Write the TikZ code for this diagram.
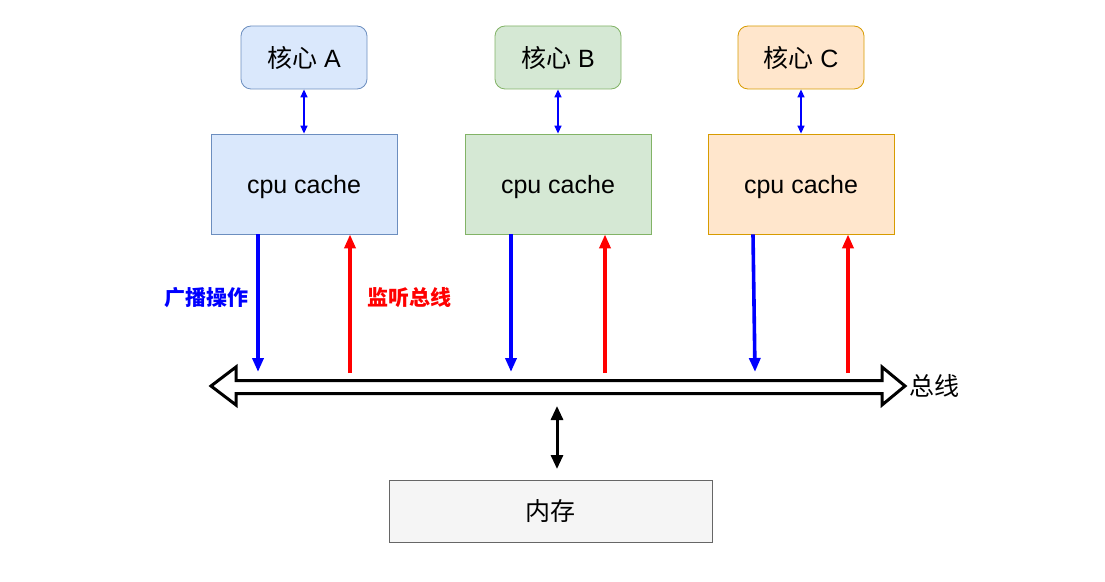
\documentclass[tikz,border=0pt]{standalone}
\usepackage{fontspec}
\setmainfont{Liberation Sans}
\newfontfamily\cjk{Noto Sans CJK SC}
\usetikzlibrary{arrows.meta}
\definecolor{fA}{HTML}{DAE8FC}\definecolor{sA}{HTML}{6C8EBF}
\definecolor{fB}{HTML}{D5E8D4}\definecolor{sB}{HTML}{82B366}
\definecolor{fC}{HTML}{FFE6CC}\definecolor{sC}{HTML}{D79B00}
\definecolor{fM}{HTML}{F5F5F5}\definecolor{sM}{HTML}{666666}
\definecolor{myblue}{HTML}{0000FF}\definecolor{myred}{HTML}{FF0000}
\begin{document}
\begin{tikzpicture}[x=1bp,y=-1bp,
  txt/.style={font=\fontsize{25bp}{29bp}\selectfont},
  core/.style={draw, rounded corners=10bp, minimum width=126bp, minimum height=63bp, inner sep=0pt, line width=0.8bp, txt},
  cache/.style={draw, minimum width=186bp, minimum height=100bp, inner sep=0pt, line width=0.8bp, txt, text depth=0pt},
  small/.style={myblue, line width=1.4bp, {Triangle[length=8bp,width=7bp]}-{Triangle[length=8bp,width=7bp]}},
  down/.style={myblue, line width=3.6bp, -{Triangle[length=14bp,width=11bp]}},
  up/.style={myred, line width=3.6bp, -{Triangle[length=14bp,width=11bp]}},
  lbl/.style={font=\cjk\bfseries\fontsize{21bp}{24bp}\selectfont}]
\useasboundingbox (0,0) rectangle (1105,582);
% cores
\node[core, fill=fA, draw=sA] (coreA) at (304,57.5) {{\cjk 核心} A};
\node[core, fill=fB, draw=sB] (coreB) at (558,57.5) {{\cjk 核心} B};
\node[core, fill=fC, draw=sC] (coreC) at (801,57.5) {{\cjk 核心} C};
% caches
\node[cache, fill=fA, draw=sA] (cacheA) at (304,184) {cpu cache};
\node[cache, fill=fB, draw=sB] (cacheB) at (558,184) {cpu cache};
\node[cache, fill=fC, draw=sC] (cacheC) at (801,184) {cpu cache};
% core-cache arrows
\draw[small] (coreA) -- (cacheA);
\draw[small] (coreB) -- (cacheB);
\draw[small] (coreC) -- (cacheC);
% bus
\draw[line width=3bp, line join=miter, fill=white]
  (211,386) -- (236,367) -- (236,380.5) -- (882,380.5) -- (882,367) -- (905,386)
  -- (882,405) -- (882,393.5) -- (236,393.5) -- (236,405) -- cycle;
\node[txt, anchor=west, inner sep=0pt] (busl) at (909,386) {\cjk 总线};
% bus connection points
\coordinate (bA1) at (258,372); \coordinate (bA2) at (350,373);
\coordinate (bB1) at (511,372); \coordinate (bB2) at (605,373);
\coordinate (bC1) at (755,372); \coordinate (bC2) at (848,373);
\draw[down] (cacheA.south -| bA1) -- (bA1);
\draw[up] (bA2) -- (cacheA.south -| bA2);
\draw[down] (cacheB.south -| bB1) -- (bB1);
\draw[up] (bB2) -- (cacheB.south -| bB2);
\draw[down] (cacheC.south -| 753,0) -- (bC1);
\draw[up] (bC2) -- (cacheC.south -| bC2);
% labels
\node[lbl, text=myblue] (bc) at (206.5,298) {广播操作};
\node[lbl, text=myred] (sn) at (409.5,298) {监听总线};
% memory
\node[draw=sM, fill=fM, line width=0.8bp, minimum width=323bp, minimum height=62bp, inner sep=0pt, txt] (mem) at (550.5,511) {\cjk 内存};
\coordinate (busbot) at (557,406);
\draw[line width=3bp, {Triangle[length=14bp,width=12bp]}-{Triangle[length=14bp,width=12bp]}] (busbot) -- (busbot |- 0,469);
\end{tikzpicture}
\end{document}
